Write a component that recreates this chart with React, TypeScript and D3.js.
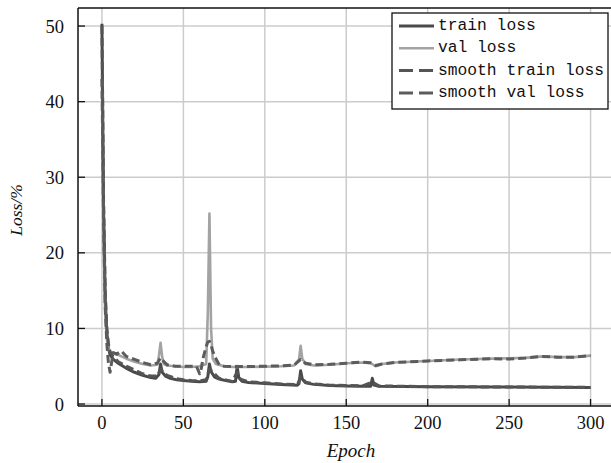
import * as d3 from 'd3'

// epoch / loss pairs
const trainLoss: [number, number][] = [
  [0, 50.3], [1, 26], [2, 14], [3, 9.5], [4, 7.4], [5, 6.5], [7, 5.9], [10, 5.4], [13, 5.0],
  [16, 4.6], [20, 4.2], [25, 3.8], [30, 3.5], [33, 3.4], [35, 3.9], [36, 5.3], [37, 4.2],
  [39, 3.7], [42, 3.4], [46, 3.2], [50, 3.1], [55, 3.0], [60, 2.95], [64, 3.0], [65, 3.6],
  [66, 5.3], [67, 4.3], [69, 3.6], [72, 3.3], [76, 3.1], [80, 2.95], [82, 3.0], [83, 5.0],
  [84, 3.5], [86, 3.0], [90, 2.85], [100, 2.7], [110, 2.6], [120, 2.5], [121, 2.7],
  [122, 4.4], [123, 3.3], [125, 2.8], [130, 2.6], [140, 2.45], [150, 2.4], [160, 2.35],
  [165, 2.35], [166, 3.4], [167, 2.5], [170, 2.35], [200, 2.3], [250, 2.25], [300, 2.2]
]

const valLoss: [number, number][] = [
  [0, 43], [1, 22], [2, 12], [3, 8.6], [4, 7.3], [5, 6.9], [7, 6.7], [10, 6.5], [15, 6.0],
  [20, 5.6], [25, 5.3], [30, 5.1], [34, 5.2], [35, 6.4], [36, 8.1], [37, 6.2], [38, 5.3],
  [40, 5.1], [45, 5.0], [50, 4.9], [55, 4.9], [60, 5.0], [64, 5.3], [65, 12], [66, 25.2],
  [67, 10], [68, 6], [70, 5.3], [75, 5.0], [80, 4.9], [90, 4.9], [100, 4.95], [110, 5.0],
  [118, 5.1], [121, 5.9], [122, 7.7], [123, 6.0], [125, 5.3], [130, 5.1], [140, 5.2],
  [150, 5.4], [160, 5.5], [165, 5.4], [168, 5.0], [172, 5.3], [180, 5.5], [200, 5.7],
  [220, 5.9], [240, 6.0], [260, 6.1], [270, 6.3], [280, 6.2], [290, 6.2], [300, 6.4]
]

const smoothTrainLoss: [number, number][] = [
  [0, 50], [1, 27], [2, 15], [3, 10], [4, 8], [5, 6.9], [7, 6.2], [10, 5.6], [15, 5.0],
  [20, 4.5], [25, 4.0], [30, 3.7], [34, 3.7], [36, 4.6], [38, 4.1], [40, 3.8], [45, 3.4],
  [50, 3.2], [55, 3.1], [60, 3.05], [64, 3.2], [66, 4.6], [68, 4.3], [70, 3.8], [72, 3.4],
  [76, 3.2], [80, 3.0], [83, 4.2], [85, 3.3], [90, 2.95], [100, 2.8], [110, 2.65], [120, 2.55],
  [122, 3.6], [125, 2.9], [130, 2.65], [140, 2.5], [150, 2.45], [160, 2.4], [166, 2.9],
  [170, 2.4], [200, 2.3], [250, 2.25], [300, 2.2]
]

const smoothValLoss: [number, number][] = [
  [0, 43], [1, 24], [2, 13], [3, 8], [4, 5.4], [5, 4.2], [6, 5.6], [7, 6.8], [9, 6.6],
  [12, 7.0], [15, 6.3], [20, 5.9], [25, 5.5], [30, 5.2], [34, 5.4], [36, 6.1], [38, 5.6],
  [40, 5.2], [45, 5.0], [50, 5.0], [55, 5.0], [58, 5.0], [59, 4.5], [60, 4.0], [61, 4.7],
  [62, 6.0], [64, 7.6], [65, 8.2], [66, 8.3], [67, 7.8], [68, 7.0], [70, 6.0], [72, 5.2],
  [75, 5.0], [80, 4.95], [90, 4.95], [100, 5.0], [110, 5.05], [118, 5.15], [122, 5.9],
  [125, 5.4], [130, 5.2], [140, 5.25], [150, 5.4], [160, 5.55], [165, 5.45], [168, 5.1],
  [172, 5.3], [180, 5.5], [200, 5.7], [220, 5.85], [240, 6.0], [250, 5.95], [260, 6.1],
  [270, 6.3], [280, 6.2], [290, 6.2], [300, 6.4]
]

const xTicks = [0, 50, 100, 150, 200, 250, 300]
const yTicks = [0, 10, 20, 30, 40, 50]

const series = [
  { name: 'train loss', data: trainLoss, color: '#4a4a4a', width: 3, dash: null },
  { name: 'val loss', data: valLoss, color: '#a3a3a3', width: 2.6, dash: null },
  { name: 'smooth train loss', data: smoothTrainLoss, color: '#555555', width: 3, dash: '8,4' },
  { name: 'smooth val loss', data: smoothValLoss, color: '#5c5c5c', width: 3, dash: '8,4' }
]

export default function App() {
  const W = 611
  const H = 463
  const left = 78
  const top = 8
  const bottom = 406
  const x = d3.scaleLinear().domain([-15, 315]).range([77.5, 615])
  const y = d3.scaleLinear().domain([-0.3, 52.4]).range([406.3, 7.9])
  const line = d3.line<[number, number]>().x(d => x(d[0])).y(d => y(d[1]))

  const serif = '"Liberation Serif", "Times New Roman", serif'
  const mono = '"Liberation Mono", "DejaVu Sans Mono", monospace'

  return (
    <svg width={W} height={H} style={{ position: 'absolute', left: 0, top: 0, background: '#fff' }}>
      {/* grid */}
      {xTicks.map(t => (
        <line key={'gx' + t} x1={x(t)} x2={x(t)} y1={top} y2={bottom} stroke="#cccccc" strokeWidth={1.5} />
      ))}
      {yTicks.map(t => (
        <line key={'gy' + t} x1={left} x2={W} y1={y(t)} y2={y(t)} stroke="#cccccc" strokeWidth={1.5} />
      ))}

      {/* curves */}
      {series.map(s => (
        <path key={s.name} d={line(s.data) || ''} fill="none" stroke={s.color}
          strokeWidth={s.width} strokeDasharray={s.dash || undefined} strokeLinejoin="round" />
      ))}

      {/* frame */}
      <line x1={left} x2={W} y1={top} y2={top} stroke="#111" strokeWidth={1.5} />
      <line x1={left} x2={W} y1={bottom} y2={bottom} stroke="#111" strokeWidth={1.5} />
      <line x1={left} x2={left} y1={top} y2={bottom} stroke="#111" strokeWidth={1.5} />

      {/* ticks + labels */}
      {xTicks.map(t => (
        <g key={'tx' + t}>
          <line x1={x(t)} x2={x(t)} y1={bottom} y2={bottom - 7} stroke="#111" strokeWidth={1.3} />
          <text x={x(t)} y={429} textAnchor="middle" fontFamily={serif} fontSize={18.5} fill="#111">{t}</text>
        </g>
      ))}
      {yTicks.map(t => (
        <g key={'ty' + t}>
          <line x1={left} x2={left + 7} y1={y(t)} y2={y(t)} stroke="#111" strokeWidth={1.3} />
          <text x={64} y={y(t) + 6.5} textAnchor="end" fontFamily={serif} fontSize={18.5} fill="#111">{t}</text>
        </g>
      ))}

      {/* axis titles */}
      <text x={351} y={457} textAnchor="middle" fontFamily={serif} fontStyle="italic" fontSize={19} fill="#111">Epoch</text>
      <text transform="translate(22,210) rotate(-90)" textAnchor="middle" fontFamily={serif} fontStyle="italic"
        fontSize={17.5} fill="#111">Loss/%</text>

      {/* legend */}
      <rect x={392} y={13} width={216} height={96} fill="#fff" stroke="#111" strokeWidth={1.3} />
      {series.map((s, i) => {
        const cy = 26 + i * 22.3
        return (
          <g key={'lg' + s.name}>
            <line x1={399} x2={434} y1={cy} y2={cy} stroke={s.color} strokeWidth={s.width}
              strokeDasharray={s.dash ? '14,6' : undefined} />
            <text x={438} y={cy + 4} fontFamily={mono} fontSize={16.3} fill="#111">{s.name}</text>
          </g>
        )
      })}
    </svg>
  )
}
